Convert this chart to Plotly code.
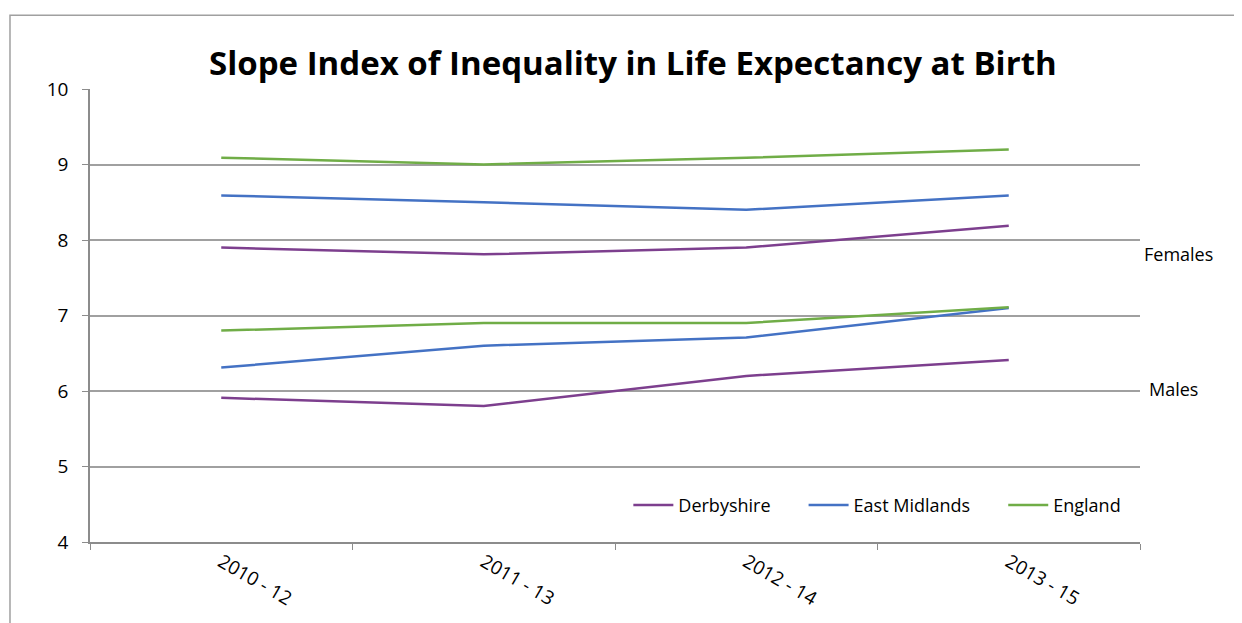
import plotly.graph_objects as go

periods = ["2010 - 12", "2011 - 13", "2012 - 14", "2013 - 15"]

derbyshire_f = [7.9, 7.81, 7.9, 8.19]
east_midlands_f = [8.59, 8.5, 8.4, 8.59]
england_f = [9.09, 9.0, 9.09, 9.2]

derbyshire_m = [5.91, 5.8, 6.2, 6.41]
east_midlands_m = [6.31, 6.6, 6.71, 7.1]
england_m = [6.8, 6.9, 6.9, 7.11]

COLORS = {"Derbyshire": "#7D3F8E", "East Midlands": "#4472C4", "England": "#70AD47"}
FONT = "Open Sans, Noto Sans, sans-serif"
PAD = "\u00a0" * 6  # extra gap between legend entries

fig = go.Figure()
for name, label, females, males in [
    ("Derbyshire", "Derbyshire" + PAD, derbyshire_f, derbyshire_m),
    ("East Midlands", "East Midlands" + PAD, east_midlands_f, east_midlands_m),
    ("England", "England", england_f, england_m),
]:
    fig.add_trace(go.Scatter(x=periods, y=females, mode="lines", name=label,
                             line=dict(color=COLORS[name], width=2.5),
                             legendgroup=name))
    fig.add_trace(go.Scatter(x=periods, y=males, mode="lines", name=label,
                             line=dict(color=COLORS[name], width=2.5),
                             legendgroup=name, showlegend=False))

fig.add_annotation(text="Females", x=1.002, y=0.635, xref="paper", yref="paper",
                   xanchor="left", yanchor="middle", showarrow=False,
                   font=dict(size=18, color="#000000"))
fig.add_annotation(text="Males", x=1.007, y=0.338, xref="paper", yref="paper",
                   xanchor="left", yanchor="middle", showarrow=False,
                   font=dict(size=18, color="#000000"))

# outer chart frame
fig.add_shape(type="rect", xref="paper", yref="paper",
              x0=-0.0762, x1=1.1, y0=-0.2, y1=1.1626,
              line=dict(color="#A0A0A0", width=1.5), layer="below")

fig.update_layout(
    title=dict(text="<b>Slope Index of Inequality in Life Expectancy at Birth</b>",
               x=0.517, xref="paper", xanchor="center", y=0.91, yanchor="middle",
               font=dict(size=33, color="#000000")),
    font=dict(family=FONT, color="#000000"),
    width=1234,
    height=615,
    margin=dict(l=82, r=102, t=81, b=79),
    plot_bgcolor="white",
    paper_bgcolor="white",
    showlegend=True,
    legend=dict(orientation="h", x=0.987, y=0.081, xanchor="right", yanchor="middle",
                font=dict(size=18), bgcolor="rgba(0,0,0,0)", itemwidth=40,
                traceorder="normal"),
    xaxis=dict(
        type="category",
        range=[-0.5, 3.5],
        tickangle=30,
        tickson="boundaries",
        ticks="outside",
        ticklen=6,
        tickcolor="#8C8C8C",
        showline=True,
        linecolor="#8C8C8C",
        linewidth=1.5,
        showgrid=False,
        tickfont=dict(size=19),
    ),
    yaxis=dict(
        range=[4, 10],
        dtick=1,
        ticks="outside",
        ticklen=6,
        tickcolor="#8C8C8C",
        showline=True,
        linecolor="#8C8C8C",
        linewidth=1.5,
        gridcolor="#A0A0A0",
        gridwidth=1.5,
        zeroline=False,
        ticklabelstandoff=10,
        tickfont=dict(size=19),
    ),
)

fig.write_html("out.html")
